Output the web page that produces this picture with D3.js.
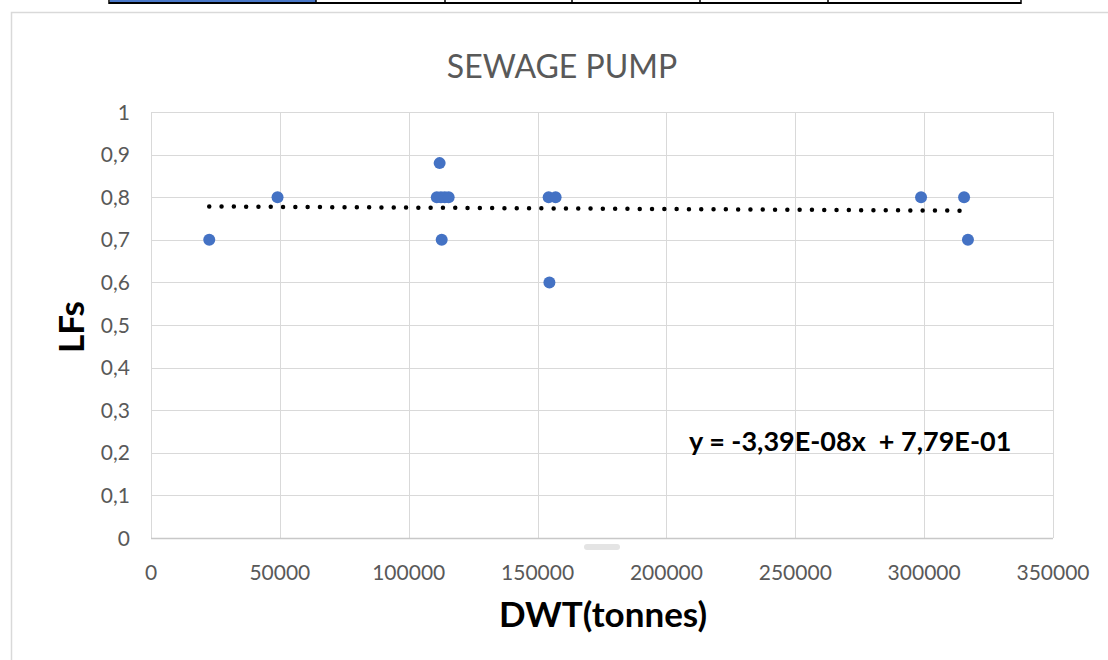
<!DOCTYPE html>
<html lang="en">
<head>
  <meta charset="UTF-8" />
  <title>SEWAGE PUMP</title>
  <script src="https://cdn.jsdelivr.net/npm/d3@7"></script>
  <style>
    body, html { margin:0; padding:0; background:#fff; }
    svg { display:block; font-family: Lato, "Open Sans", sans-serif; }
    .tick-label { fill:#595959; font-size:21px; }
    .grid line { stroke:#d9d9d9; stroke-width:1; }
  </style>
</head>
<body>
  <svg id="chart" width="1108" height="660"></svg>

  <script>
    // scatter data
    const dwt = [22600, 49100, 112000, 110900, 112500, 114000, 115500, 112800,
                 154300, 157000, 154600, 298800, 315500, 317000];
    const lfs = [0.7, 0.8, 0.88, 0.8, 0.8, 0.8, 0.8, 0.7,
                 0.8, 0.8, 0.6, 0.8, 0.8, 0.7];

    const xTicks = [0, 50000, 100000, 150000, 200000, 250000, 300000, 350000];
    const yTicks = [0, 0.1, 0.2, 0.3, 0.4, 0.5, 0.6, 0.7, 0.8, 0.9, 1];

    // linear trend shown on the chart
    const slope = -3.39e-8;
    const intercept = 0.779;
    const equation = 'y = -3,39E-08x  + 7,79E-01';

    // cells of the table strip peeking in at the top of the page
    const tableCols = [109, 316, 445, 572, 700, 828, 1021];

    const svg = d3.select('#chart');
    const W = 1108, H = 660;
    const m = { left: 151, right: 1053, top: 112, bottom: 538 };

    // table remnant at the top
    svg.append('rect')
      .attr('x', tableCols[0] + 1).attr('y', 0)
      .attr('width', tableCols[1] - tableCols[0] - 1).attr('height', 2)
      .attr('fill', '#4a78c8');
    svg.append('line')
      .attr('x1', tableCols[0]).attr('x2', tableCols[tableCols.length - 1])
      .attr('y1', 3).attr('y2', 3)
      .attr('stroke', '#000').attr('stroke-width', 2);
    svg.selectAll('.tcol').data(tableCols).enter().append('line')
      .attr('x1', d => d).attr('x2', d => d)
      .attr('y1', 0).attr('y2', 4)
      .attr('stroke', '#000').attr('stroke-width', 1.5);

    // chart frame
    svg.append('rect')
      .attr('x', 11.5).attr('y', 12.5)
      .attr('width', W + 20).attr('height', H + 20)
      .attr('fill', '#fff')
      .attr('stroke', '#d9d9d9').attr('stroke-width', 1.5);

    const x = d3.scaleLinear().domain([0, 350000]).range([m.left, m.right]);
    const y = d3.scaleLinear().domain([0, 1]).range([m.bottom, m.top]);

    const comma = d3.formatLocale({ decimal: ',', thousands: '', grouping: [3], currency: ['', ''] });
    const fy = d => d === 0 || d === 1 ? String(d) : comma.format('.1f')(d);

    // gridlines
    svg.append('g').attr('class', 'grid')
      .selectAll('line').data(yTicks.slice(1)).enter().append('line')
      .attr('x1', m.left).attr('x2', m.right)
      .attr('y1', d => Math.round(y(d)) + 0.5).attr('y2', d => Math.round(y(d)) + 0.5);
    svg.append('g').attr('class', 'grid')
      .selectAll('line').data(xTicks).enter().append('line')
      .attr('x1', d => Math.round(x(d)) + 0.5).attr('x2', d => Math.round(x(d)) + 0.5)
      .attr('y1', m.top).attr('y2', m.bottom);

    // x axis line
    svg.append('line')
      .attr('x1', m.left).attr('x2', m.right)
      .attr('y1', m.bottom + 0.5).attr('y2', m.bottom + 0.5)
      .attr('stroke', '#c8c8c8').attr('stroke-width', 1.5);

    // little grey smudge under the axis
    svg.append('rect')
      .attr('x', 584).attr('y', 544).attr('width', 36).attr('height', 6)
      .attr('rx', 3).attr('fill', '#e4e4e4');

    // tick labels
    svg.append('g').selectAll('text').data(yTicks).enter().append('text')
      .attr('class', 'tick-label')
      .attr('x', 130).attr('y', d => y(d))
      .attr('dy', '0.36em')
      .attr('text-anchor', 'end')
      .text(fy);
    svg.append('g').selectAll('text').data(xTicks).enter().append('text')
      .attr('class', 'tick-label')
      .attr('x', d => x(d)).attr('y', 572)
      .attr('dy', '0.36em')
      .attr('text-anchor', 'middle')
      .text(d => String(d));

    // trendline (dotted)
    const tx = d3.extent(dwt);
    svg.append('line')
      .attr('x1', x(tx[0])).attr('y1', y(slope * tx[0] + intercept))
      .attr('x2', x(tx[1])).attr('y2', y(slope * tx[1] + intercept))
      .attr('stroke', '#000')
      .attr('stroke-width', 4.5)
      .attr('stroke-linecap', 'round')
      .attr('stroke-dasharray', '0 12.3');

    // points
    svg.append('g').selectAll('circle').data(dwt).enter().append('circle')
      .attr('cx', d => x(d))
      .attr('cy', (d, i) => y(lfs[i]))
      .attr('r', 6)
      .attr('fill', '#4472c4');

    // titles
    svg.append('text')
      .attr('x', 562).attr('y', 78)
      .attr('text-anchor', 'middle')
      .attr('fill', '#595959')
      .style('font-size', '32px')
      .text('SEWAGE PUMP');

    svg.append('text')
      .attr('x', 603).attr('y', 627)
      .attr('text-anchor', 'middle')
      .attr('fill', '#000')
      .style('font-size', '35px').style('font-weight', 'bold')
      .text('DWT(tonnes)');

    svg.append('text')
      .attr('transform', 'translate(84,327) rotate(-90)')
      .attr('text-anchor', 'middle')
      .attr('fill', '#000')
      .style('font-size', '35px').style('font-weight', 'bold')
      .text('LFs');

    svg.append('text')
      .attr('x', 689).attr('y', 451)
      .attr('fill', '#000')
      .style('font-size', '27px').style('font-weight', 'bold')
      .style('white-space', 'pre')
      .text(equation);
  </script>
</body>
</html>
